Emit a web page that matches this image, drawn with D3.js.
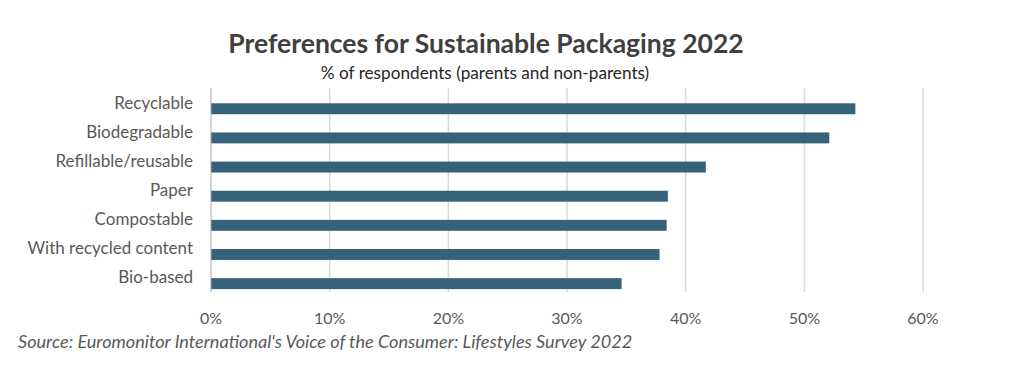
<!DOCTYPE html>
<html>
<head>
<meta charset="utf-8">
<script src="https://cdn.jsdelivr.net/npm/d3@7"></script>
<style>
  body { margin: 0; background: #fff; }
  text { font-family: Lato, "Open Sans", sans-serif; }
</style>
</head>
<body>
<div id="wrapper"></div>
<script>
// data
const categories = ["Recyclable", "Biodegradable", "Refillable/reusable", "Paper",
  "Compostable", "With recycled content", "Bio-based"]
const shares = [54.3, 52.1, 41.7, 38.5, 38.4, 37.8, 34.6]
const tickValues = [0, 10, 20, 30, 40, 50, 60]

const titleText = "Preferences for Sustainable Packaging 2022"
const subtitleText = "% of respondents (parents and non-parents)"
const sourceText = "Source: Euromonitor International's Voice of the Consumer: Lifestyles Survey 2022"

const data = categories.map((c, i) => ({ name: c, value: shares[i] }))

const width = 1024
const height = 386
const plot = { left: 211, right: 923, top: 88, bottom: 292 }

const svg = d3.select("#wrapper")
  .append("svg")
    .attr("width", width)
    .attr("height", height)

const x = d3.scaleLinear()
  .domain([0, 60])
  .range([plot.left, plot.right])

const y = d3.scaleBand()
  .domain(categories)
  .range([plot.top, plot.bottom])

// gridlines
svg.append("g")
  .selectAll("line")
  .data(tickValues.slice(1))
  .join("line")
    .attr("x1", d => x(d))
    .attr("x2", d => x(d))
    .attr("y1", plot.top)
    .attr("y2", plot.bottom)
    .attr("stroke", "#d9d9d9")
    .attr("stroke-width", 1.5)

// bars (sit in the lower part of each band, like the excel original)
svg.append("g")
  .selectAll("rect")
  .data(data)
  .join("rect")
    .attr("x", x(0))
    .attr("y", d => y(d.name) + y.bandwidth() * 0.525)
    .attr("width", d => x(d.value) - x(0))
    .attr("height", y.bandwidth() * 0.375)
    .attr("fill", "#36637a")

// category axis line
svg.append("line")
  .attr("x1", x(0)).attr("x2", x(0))
  .attr("y1", plot.top).attr("y2", plot.bottom)
  .attr("stroke", "#a6a6a6")
  .attr("stroke-width", 1)

// category labels
svg.append("g")
  .selectAll("text")
  .data(categories)
  .join("text")
    .attr("x", 193)
    .attr("y", d => y(d) + y.bandwidth() / 2)
    .attr("dy", "0.35em")
    .attr("text-anchor", "end")
    .attr("font-size", 17)
    .attr("fill", "#595959")
    .text(d => d)

// value axis labels
svg.append("g")
  .selectAll("text")
  .data(tickValues)
  .join("text")
    .attr("x", d => x(d))
    .attr("y", 318)
    .attr("dy", "0.35em")
    .attr("text-anchor", "middle")
    .attr("font-size", 16)
    .attr("fill", "#595959")
    .text(d => d + "%")

// titles
svg.append("text")
  .attr("x", 486)
  .attr("y", 53)
  .attr("text-anchor", "middle")
  .attr("font-size", 26.5)
  .attr("font-weight", "bold")
  .attr("fill", "#404040")
  .text(titleText)

svg.append("text")
  .attr("x", 485)
  .attr("y", 79)
  .attr("text-anchor", "middle")
  .attr("font-size", 17.2)
  .attr("fill", "#262626")
  .text(subtitleText)

svg.append("text")
  .attr("x", 18)
  .attr("y", 348)
  .attr("font-size", 18.1)
  .attr("font-style", "italic")
  .attr("fill", "#595959")
  .text(sourceText)
</script>
</body>
</html>
